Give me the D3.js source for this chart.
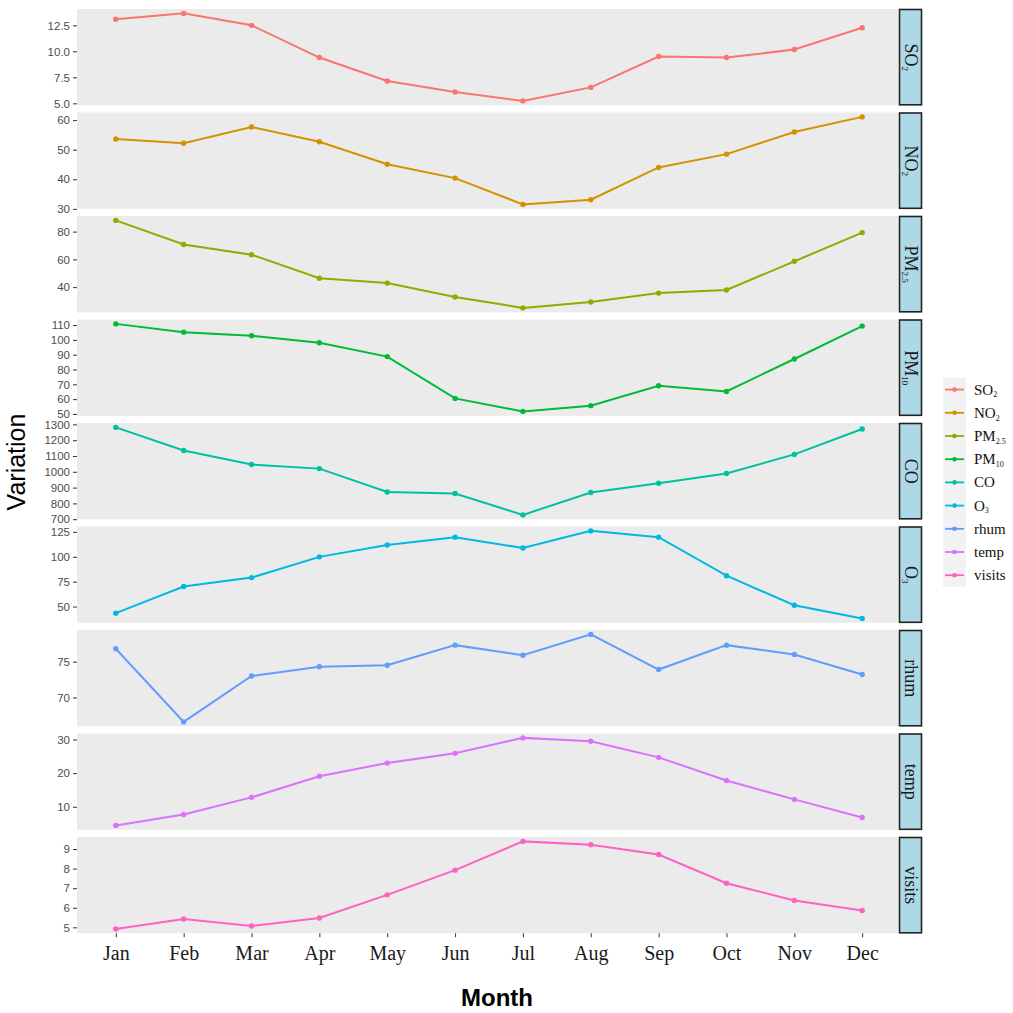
<!DOCTYPE html>
<html>
<head>
<meta charset="utf-8">
<script src="https://cdn.jsdelivr.net/npm/d3@7"></script>
<style>
  body { margin: 0; background: #fff; }
  svg { display: block; }
</style>
</head>
<body>
<div id="chart"></div>
<script>
// Monthly variation of pollutants, weather and visits (faceted line chart)

const months = ['Jan', 'Feb', 'Mar', 'Apr', 'May', 'Jun', 'Jul', 'Aug', 'Sep', 'Oct', 'Nov', 'Dec'];

const so2    = [13.08, 13.65, 12.5, 9.4, 7.14, 6.09, 5.23, 6.53, 9.5, 9.4, 10.17, 12.27];
const no2    = [53.6, 52.2, 57.7, 52.7, 45.1, 40.4, 31.5, 33.1, 44.0, 48.5, 56.0, 61.1];
const pm25   = [88.1, 70.7, 63.4, 46.4, 42.9, 32.9, 25.0, 29.3, 35.7, 37.9, 58.6, 79.3];
const pm10   = [110.8, 105.2, 102.8, 98.1, 88.7, 60.5, 51.7, 55.6, 69.0, 65.2, 87.1, 109.3];
const co     = [1281, 1135, 1046, 1020, 872, 863, 727, 869, 927, 989, 1110, 1271];
const o3     = [43.4, 70.1, 79.1, 99.9, 111.8, 119.7, 108.8, 126.0, 119.7, 81.0, 51.3, 38.1];
const rhum   = [76.8, 66.6, 73.0, 74.3, 74.5, 77.3, 75.9, 78.8, 73.9, 77.3, 76.0, 73.2];
const temp   = [4.45, 7.7, 12.8, 19.1, 23.0, 25.9, 30.5, 29.5, 24.7, 17.8, 12.2, 6.8];
const visits = [4.92, 5.43, 5.07, 5.48, 6.66, 7.92, 9.39, 9.22, 8.72, 7.25, 6.37, 5.86];

// label = [main text, subscript]
const seriesLabels = [['SO', '2'], ['NO', '2'], ['PM', '2.5'], ['PM', '10'], ['CO', ''], ['O', '3'], ['rhum', ''], ['temp', ''], ['visits', '']];
const seriesValues = [so2, no2, pm25, pm10, co, o3, rhum, temp, visits];
const seriesTicks = [
  [5, 7.5, 10, 12.5],
  [30, 40, 50, 60],
  [40, 60, 80],
  [50, 60, 70, 80, 90, 100, 110],
  [700, 800, 900, 1000, 1100, 1200, 1300],
  [50, 75, 100, 125],
  [70, 75],
  [10, 20, 30],
  [5, 6, 7, 8, 9]
];
const seriesFormats = ['.1f', 'd', 'd', 'd', 'd', 'd', 'd', 'd', 'd'];
const colors = ['#F8766D', '#D39200', '#93AA00', '#00BA38', '#00C19F', '#00B9E3', '#619CFF', '#DB72FB', '#FF61C3'];

const W = 1013, H = 1013;
const panelLeft = 77, panelRight = 898;
const stripW = 23;
const top0 = 9, panelH = 96.3, gap = 7.2;

const svg = d3.select('#chart').append('svg')
  .attr('width', W)
  .attr('height', H);

const x = d3.scalePoint().domain(months).range([panelLeft + 1.5, panelRight + 1.5]).padding(0.55);

function addLabel(sel, parts, subSize) {
  sel.append('tspan').text(parts[0]);
  if (parts[1]) {
    sel.append('tspan')
      .attr('dy', '0.35em')
      .style('font-size', subSize)
      .text(parts[1]);
  }
}

seriesValues.forEach((vals, i) => {
  const top = top0 + i * (panelH + gap);
  const bottom = top + panelH;
  const [lo, hi] = d3.extent(vals);
  const pad = (hi - lo) * 0.05;
  const y = d3.scaleLinear().domain([lo - pad, hi + pad]).range([bottom, top]);

  const g = svg.append('g');

  // panel background
  g.append('rect')
    .attr('x', panelLeft)
    .attr('y', top)
    .attr('width', panelRight - panelLeft)
    .attr('height', panelH)
    .attr('fill', '#EBEBEB');

  // y axis
  const ax = g.append('g')
    .attr('transform', `translate(${panelLeft},0)`)
    .call(d3.axisLeft(y).tickValues(seriesTicks[i]).tickFormat(d3.format(seriesFormats[i])).tickSize(4).tickPadding(3));
  ax.select('.domain').remove();
  ax.selectAll('line').attr('stroke', '#333').attr('stroke-width', 1);
  ax.selectAll('text')
    .style('font-family', '"Liberation Sans", Arial, sans-serif')
    .style('font-size', '11.5px')
    .attr('fill', '#4D4D4D');

  // line + points
  const line = d3.line()
    .x((d, j) => x(months[j]))
    .y(d => y(d));
  g.append('path')
    .datum(vals)
    .attr('d', line)
    .attr('fill', 'none')
    .attr('stroke', colors[i])
    .attr('stroke-width', 2);
  g.selectAll('.pt')
    .data(vals).enter().append('circle')
    .attr('cx', (d, j) => x(months[j]))
    .attr('cy', d => y(d))
    .attr('r', 2.7)
    .attr('fill', colors[i]);

  // facet strip
  g.append('rect')
    .attr('x', panelRight + 1.5)
    .attr('y', top + 0.5)
    .attr('width', stripW - 1)
    .attr('height', panelH - 1)
    .attr('fill', '#ADD8E6')
    .attr('stroke', '#222')
    .attr('stroke-width', 1.6);
  const st = g.append('text')
    .attr('transform', `translate(${panelRight + 1 + stripW / 2 - 5.5},${(top + bottom) / 2}) rotate(90)`)
    .attr('text-anchor', 'middle')
    .style('font-family', '"Liberation Serif", "Times New Roman", serif')
    .style('font-size', '18px')
    .attr('fill', '#1A1A1A');
  addLabel(st, seriesLabels[i], '9px');

  // x axis under the last panel
  if (i === seriesValues.length - 1) {
    const xa = g.append('g')
      .attr('transform', `translate(0,${bottom})`)
      .call(d3.axisBottom(x).tickSize(4).tickPadding(9));
    xa.select('.domain').remove();
    xa.selectAll('line').attr('stroke', '#333');
    xa.selectAll('text')
      .style('font-family', '"Liberation Serif", "Times New Roman", serif')
      .style('font-size', '20px')
      .attr('fill', '#1A1A1A');
  }
});

// axis titles
svg.append('text')
  .attr('x', 497)
  .attr('y', 1006)
  .attr('text-anchor', 'middle')
  .style('font-family', '"Liberation Sans", Arial, sans-serif')
  .style('font-size', '24px')
  .style('font-weight', 'bold')
  .text('Month');

svg.append('text')
  .attr('transform', 'translate(25,462) rotate(-90)')
  .attr('text-anchor', 'middle')
  .style('font-family', '"Liberation Sans", Arial, sans-serif')
  .style('font-size', '25px')
  .text('Variation');

// legend
const legend = svg.append('g');
const legTop = 378, rowH = 23.2;
legend.append('rect')
  .attr('x', 943)
  .attr('y', legTop)
  .attr('width', 23)
  .attr('height', rowH * seriesLabels.length)
  .attr('fill', '#F2F2F2');

seriesLabels.forEach((lab, i) => {
  const cy = legTop + rowH * (i + 0.5);
  legend.append('line')
    .attr('x1', 945).attr('x2', 964)
    .attr('y1', cy).attr('y2', cy)
    .attr('stroke', colors[i])
    .attr('stroke-width', 1.8);
  legend.append('circle')
    .attr('cx', 954.5).attr('cy', cy)
    .attr('r', 2.3)
    .attr('fill', colors[i]);
  const t = legend.append('text')
    .attr('x', 974)
    .attr('y', cy + 5)
    .style('font-family', '"Liberation Serif", "Times New Roman", serif')
    .style('font-size', '15px')
    .attr('fill', '#111');
  addLabel(t, lab, '8px');
});
</script>
</body>
</html>
